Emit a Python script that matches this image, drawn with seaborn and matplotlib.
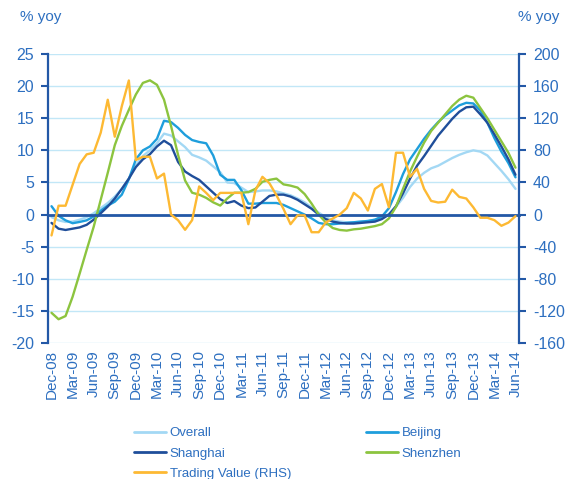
import numpy as np
import pandas as pd
import matplotlib
matplotlib.use('Agg')
import matplotlib.pyplot as plt
import seaborn as sns

# monthly data, Dec-08 .. Jun-14
months = pd.date_range('2008-12-01', periods=67, freq='MS').strftime('%b-%y').tolist()

overall = [-0.4, -0.9, -1.15, -1.1, -0.8, -0.4, 0.2, 1.0, 1.8, 2.8,
           4.0, 5.6, 7.7, 9.1, 10.0, 11.1, 12.6, 12.3, 11.4, 10.5,
           9.3, 8.9, 8.4, 7.5, 6.6, 5.0, 4.9, 4.2, 3.5, 3.6,
           3.75, 3.75, 3.6, 3.3, 3.0, 2.5, 1.9, 1.1, 0.3, -0.4,
           -0.9, -1.1, -1.2, -1.2, -1.1, -1.0, -0.8, -0.4, 0.1, 1.2,
           2.6, 4.3, 5.6, 6.5, 7.2, 7.6, 8.2, 8.8, 9.3, 9.7,
           10.0, 9.8, 9.2, 8.0, 6.8, 5.5, 4.0]
beijing = [1.3, -0.2, -0.9, -1.35, -1.15, -0.9, -0.3, 0.6, 1.4, 2.0,
           3.1, 5.5, 8.6, 10.0, 10.6, 11.8, 14.6, 14.4, 13.5, 12.4,
           11.6, 11.3, 11.1, 9.2, 6.2, 5.4, 5.4, 3.8, 1.7, 1.7,
           1.8, 1.8, 1.8, 1.5, 1.0, 0.5, 0.0, -0.6, -1.3, -1.5,
           -1.5, -1.4, -1.3, -1.2, -1.1, -1.0, -0.8, -0.3, 1.0, 3.5,
           6.3, 8.6, 10.2, 11.8, 13.2, 14.4, 15.4, 16.2, 17.0, 17.4,
           17.3, 16.2, 14.3, 11.9, 9.8, 8.0, 5.8]
shanghai = [-1.3, -2.2, -2.4, -2.2, -2.0, -1.6, -0.8, 0.2, 1.25, 2.5,
            4.0, 5.6, 7.4, 8.6, 9.4, 10.6, 11.5, 10.8, 8.2, 6.7,
            6.0, 5.4, 4.4, 3.4, 2.4, 1.8, 2.1, 1.4, 1.0, 1.1,
            2.0, 2.9, 3.1, 3.1, 2.8, 2.3, 1.6, 0.9, 0.0, -0.7,
            -1.1, -1.3, -1.4, -1.4, -1.3, -1.2, -1.1, -0.7, 0.0, 1.3,
            3.3, 5.6, 7.6, 9.1, 10.7, 12.3, 13.6, 14.9, 16.0, 16.7,
            16.8, 15.6, 14.3, 12.5, 10.6, 8.6, 6.2]
shenzhen = [-15.3, -16.3, -15.8, -12.8, -9.2, -5.5, -1.9, 2.3, 6.5, 10.8,
            13.8, 16.3, 18.7, 20.5, 20.9, 20.2, 17.9, 13.8, 9.3, 5.3,
            3.4, 3.1, 2.6, 1.9, 1.4, 2.5, 3.4, 3.4, 3.5, 4.0,
            5.1, 5.4, 5.6, 4.7, 4.5, 4.2, 3.2, 1.7, 0.0, -1.2,
            -2.1, -2.4, -2.5, -2.3, -2.2, -2.0, -1.8, -1.5, -0.6, 1.2,
            4.0, 6.7, 9.0, 11.2, 13.0, 14.3, 15.6, 16.9, 17.9, 18.5,
            18.2, 16.6, 15.0, 13.2, 11.4, 9.6, 7.3]
trading = [-26, 11, 11, 37, 63, 75, 77, 102, 143, 97,
           135, 167, 68, 72, 72, 45, 51, 0, -7, -19,
           -7, 35, 27, 18, 27, 27, 27, 27, -12, 30,
           47, 39, 24, 7, -12, -1, -1, -22, -22, -10,
           -5, 0, 8, 27, 20, 5, 32, 38, 9, 77,
           77, 47, 57, 32, 17, 15, 16, 31, 22, 20,
           9, -4, -4, -7, -14, -10, -2]

series_names = ['Overall', 'Beijing', 'Shanghai', 'Shenzhen']
colors = {'Overall': '#A3D8F4', 'Beijing': '#1E9EDC', 'Shanghai': '#1F4E9A',
          'Shenzhen': '#8CC43F', 'Trading Value (RHS)': '#FDB933'}
axis_col = '#2358A6'
text_col = '#2D6FC0'
grid_col = '#C2E7F7'

idx = np.arange(len(months))
df = pd.DataFrame({'m': idx, 'Overall': overall, 'Beijing': beijing,
                   'Shanghai': shanghai, 'Shenzhen': shenzhen})
long = df.melt(id_vars='m', var_name='series', value_name='val')

sns.set_style('white')
plt.rcParams['font.family'] = ['Liberation Sans', 'DejaVu Sans']
plt.rcParams['axes.unicode_minus'] = False

fig = plt.figure(figsize=(5.67, 4.79), dpi=100)
ax = fig.add_axes([48 / 567, 1 - 343 / 479, (519 - 48) / 567, (343 - 54) / 479])

ax.yaxis.grid(True, color=grid_col, lw=1)
ax.set_axisbelow(True)

sns.lineplot(data=long, x='m', y='val', hue='series', hue_order=series_names,
             palette=colors, linewidth=1.7, ax=ax, legend=False)

ax2 = ax.twinx()
sns.lineplot(x=idx, y=trading, color=colors['Trading Value (RHS)'],
             linewidth=1.7, ax=ax2)

ax.set_xlim(-0.5, 66.5)
ax.set_ylim(-20, 25)
ax.set_yticks(range(-20, 26, 5))
ax2.set_ylim(-160, 200)
ax2.set_yticks(range(-160, 201, 40))
ax.set_xlabel('')
ax.set_ylabel('')
ax2.set_ylabel('')

for s in ['top', 'right']:
    ax.spines[s].set_visible(False)
for s in ['top', 'left', 'bottom']:
    ax2.spines[s].set_visible(False)
ax.spines['left'].set_color(axis_col)
ax.spines['left'].set_linewidth(1.6)
ax2.spines['right'].set_color(axis_col)
ax2.spines['right'].set_linewidth(1.6)
ax.spines['bottom'].set_position(('data', 0))
ax.spines['bottom'].set_color(axis_col)
ax.spines['bottom'].set_linewidth(2)

# tick marks on the zero line between quarters
ax.set_xticks(np.arange(2.5, 66, 3))
ax.tick_params(axis='x', direction='out', length=5, width=1.5, color=axis_col,
               labelbottom=False)
ax.tick_params(axis='y', direction='out', length=5, width=1.5, color=axis_col,
               labelcolor=text_col, labelsize=11.5, pad=5)
ax2.tick_params(axis='y', direction='out', length=5, width=1.5, color=axis_col,
                labelcolor=text_col, labelsize=11.5, pad=5)

# date labels along the bottom of the plot
sec = ax.secondary_xaxis('bottom')
sec.set_xticks(idx[::3], labels=months[::3])
sec.tick_params(length=0, pad=5, labelsize=11, labelcolor=text_col, rotation=90)
sec.spines['bottom'].set_visible(False)

fig.text(20 / 567, 1 - 17 / 479, '% yoy', color=text_col, fontsize=11, va='center')
fig.text(518 / 567, 1 - 17 / 479, '% yoy', color=text_col, fontsize=11, va='center')

order = ['Overall', 'Shanghai', 'Trading Value (RHS)', 'Beijing', 'Shenzhen']
handles = [plt.Line2D([], [], color=colors[n], lw=2) for n in order]
fig.legend(handles, order, loc='upper left', bbox_to_anchor=(134 / 567, 1 - 427 / 479),
           ncol=2, frameon=False, fontsize=9.5, labelcolor=text_col,
           handlelength=2.4, handletextpad=0.3, columnspacing=5.7,
           labelspacing=0.62, borderaxespad=0, borderpad=0)

fig.savefig('out.png', dpi=100)
